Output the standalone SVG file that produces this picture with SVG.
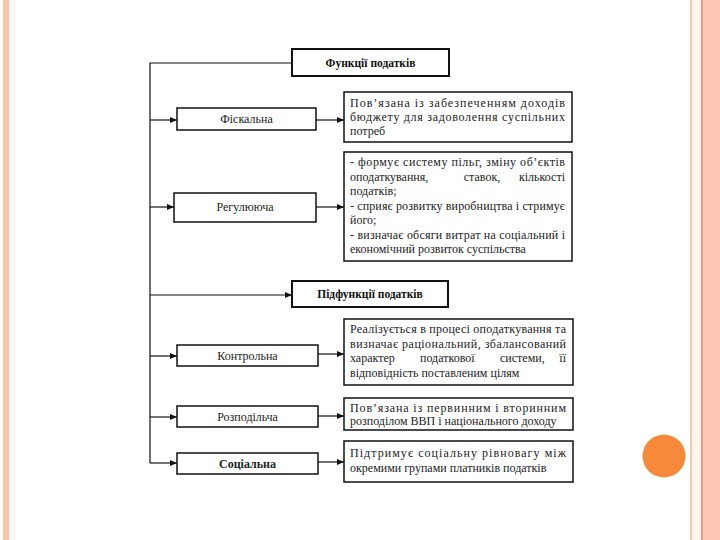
<svg xmlns="http://www.w3.org/2000/svg" width="720" height="540" viewBox="0 0 720 540">
<defs>
<marker id="ah" markerWidth="8" markerHeight="8" refX="7" refY="4" orient="auto" markerUnits="userSpaceOnUse">
<path d="M0,1 L7,4 L0,7 Z" fill="#111"/>
</marker>
<style>
.box{fill:#fff;stroke:#111;stroke-width:1.5}
.hbox{fill:#fff;stroke:#111;stroke-width:2}
.t{font-family:"Liberation Serif","Times New Roman",serif;font-size:12px;fill:#222}
.lbl{font-family:"Liberation Serif","Times New Roman",serif;font-size:12px;fill:#222;text-anchor:middle}
.hd{font-family:"Liberation Serif","Times New Roman",serif;font-size:11.5px;font-weight:bold;fill:#111;text-anchor:middle}
.r{text-anchor:end}
.m{text-anchor:middle}
.ln{stroke:#111;stroke-width:1.2;fill:none}
</style>
</defs>
<rect width="720" height="540" fill="#fff"/>
<!-- slide decoration -->
<rect x="3" y="0" width="6" height="540" fill="#FFC4A8"/>
<rect x="11.5" y="0" width="1" height="540" fill="#F3E6F0"/>
<rect x="14" y="0" width="1" height="540" fill="#FBF3D8"/>
<rect x="690" y="0" width="2" height="540" fill="#F8C9B4"/>
<rect x="692" y="0" width="9" height="540" fill="#FFF4E8"/>
<rect x="701" y="0" width="2" height="540" fill="#F29B7C"/>
<rect x="703" y="0" width="17" height="540" fill="#FFC8B4"/>
<circle cx="664" cy="456" r="21.5" fill="#F6893A"/>

<g id="connectors">
<polyline class="ln" points="292,63 150,63 150,463"/>
<line class="ln" x1="150" y1="120" x2="177" y2="120" marker-end="url(#ah)"/>
<line class="ln" x1="316" y1="120" x2="344" y2="120" marker-end="url(#ah)"/>
<line class="ln" x1="150" y1="207" x2="174" y2="207" marker-end="url(#ah)"/>
<line class="ln" x1="316" y1="207" x2="344" y2="207" marker-end="url(#ah)"/>
<line class="ln" x1="150" y1="295" x2="292" y2="295" marker-end="url(#ah)"/>
<line class="ln" x1="150" y1="356" x2="177" y2="356" marker-end="url(#ah)"/>
<line class="ln" x1="318" y1="354" x2="344" y2="354" marker-end="url(#ah)"/>
<line class="ln" x1="150" y1="417" x2="177" y2="417" marker-end="url(#ah)"/>
<line class="ln" x1="318" y1="416" x2="344" y2="416" marker-end="url(#ah)"/>
<line class="ln" x1="150" y1="463" x2="177" y2="463" marker-end="url(#ah)"/>
<line class="ln" x1="318" y1="462" x2="344" y2="462" marker-end="url(#ah)"/>
</g>

<g id="functions">
<rect class="hbox" x="292" y="49" width="157" height="27"/>
<text class="hd" x="370.5" y="66.5">Функції податків</text>
</g>

<g id="fiscal">
<rect class="box" x="177" y="108" width="139" height="22"/>
<text class="lbl" x="246.5" y="123">Фіскальна</text>
</g>
<g id="fiscal-desc">
<rect class="box" x="344" y="92" width="228" height="50"/>
<text class="t" x="350" y="107" textLength="215" lengthAdjust="spacing">Пов’язана із забезпеченням доходів</text>
<text class="t" x="350" y="121" textLength="215" lengthAdjust="spacing">бюджету для задоволення суспільних</text>
<text class="t" x="350" y="135">потреб</text>
</g>

<g id="regulating">
<rect class="box" x="174" y="193" width="142" height="29"/>
<text class="lbl" x="245" y="211">Регулююча</text>
</g>
<g id="regulating-desc">
<rect class="box" x="344" y="152" width="228" height="109"/>
<text class="t" x="350" y="166" textLength="215" lengthAdjust="spacing">- формує систему пільг, зміну об’єктів</text>
<text class="t" x="350" y="180.5">оподаткування,</text>
<text class="t m" x="482" y="180.5">ставок,</text>
<text class="t r" x="565" y="180.5">кількості</text>
<text class="t" x="350" y="195">податків;</text>
<text class="t" x="350" y="209.5" textLength="215" lengthAdjust="spacing">- сприяє розвитку виробництва і стримує</text>
<text class="t" x="350" y="224">його;</text>
<text class="t" x="350" y="238.5" textLength="215" lengthAdjust="spacing">- визначає обсяги витрат на соціальний і</text>
<text class="t" x="350" y="253">економічний розвиток суспільства</text>
</g>

<g id="subfunctions">
<rect class="hbox" x="292" y="281" width="156" height="26"/>
<text class="hd" x="370" y="298">Підфункції податків</text>
</g>

<g id="control">
<rect class="box" x="177" y="345" width="141" height="21"/>
<text class="lbl" x="247.5" y="359.5">Контрольна</text>
</g>
<g id="control-desc">
<rect class="box" x="344" y="319" width="229" height="66"/>
<text class="t" x="350" y="333" textLength="216" lengthAdjust="spacing">Реалізується в процесі оподаткування та</text>
<text class="t" x="350" y="347.5" textLength="216" lengthAdjust="spacing">визначає раціональний, збалансований</text>
<text class="t" x="350" y="362">характер</text>
<text class="t" x="420" y="362">податкової</text>
<text class="t" x="500" y="362">системи,</text>
<text class="t r" x="566" y="362">її</text>
<text class="t" x="350" y="376.5">відповідність поставленим цілям</text>
</g>

<g id="distributive">
<rect class="box" x="177" y="406" width="141" height="21"/>
<text class="lbl" x="247.5" y="420.5">Розподільча</text>
</g>
<g id="distributive-desc">
<rect class="box" x="344" y="398" width="229" height="32"/>
<text class="t" x="350" y="411.5" textLength="216" lengthAdjust="spacing">Пов’язана із первинним і вторинним</text>
<text class="t" x="350" y="425">розподілом ВВП і національного доходу</text>
</g>

<g id="social">
<rect class="box" x="177" y="453" width="141" height="21"/>
<text class="lbl" x="247.5" y="467.5" font-weight="bold">Соціальна</text>
</g>
<g id="social-desc">
<rect class="box" x="344" y="441" width="229" height="41"/>
<text class="t" x="350" y="457" textLength="216" lengthAdjust="spacing">Підтримує соціальну рівновагу між</text>
<text class="t" x="350" y="472">окремими групами платників податків</text>
</g>
</svg>
